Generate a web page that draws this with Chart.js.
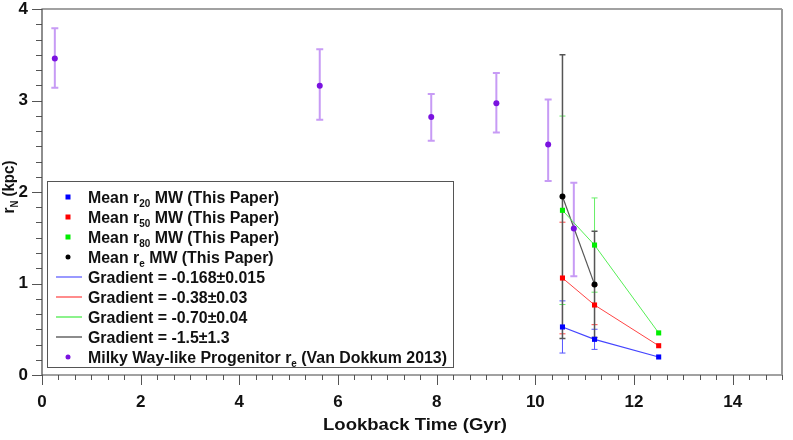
<!DOCTYPE html>
<html><head><meta charset="utf-8">
<script src="https://cdn.jsdelivr.net/npm/chart.js@4"></script>
<style>html,body{margin:0;padding:0;background:#fff}</style>
</head><body>
<canvas id="c" width="793" height="440"></canvas>
<script>
// ---- data ----
const timeMW = [10.55, 11.2, 12.5];
const r20 = [0.525, 0.39, 0.197];
const r20Err = [0.285, 0.11, 0];
const r50 = [1.06, 0.765, 0.32];
const r50Err = [0.61, 0.215, 0];
const r80 = [1.80, 1.42, 0.46];
const r80Err = [1.03, 0.515, 0];
const timeRe = [10.55, 11.2];
const re = [1.95, 0.99];
const reErr = [1.55, 0.58];
const timeVD = [0.26, 5.63, 7.89, 9.21, 10.26, 10.78];
const rVD = [3.46, 3.16, 2.82, 2.97, 2.52, 1.60];
const rVDHi = [3.79, 3.56, 3.07, 3.30, 3.01, 2.10];
const rVDLo = [3.14, 2.79, 2.56, 2.65, 2.12, 1.08];
const xTicks = [0, 2, 4, 6, 8, 10, 12, 14];
const yTicks = [0, 1, 2, 3, 4];
const legendLabels = [
  "Mean r_{20} MW (This Paper)",
  "Mean r_{50} MW (This Paper)",
  "Mean r_{80} MW (This Paper)",
  "Mean r_{e} MW (This Paper)",
  "Gradient = -0.168\u00b10.015",
  "Gradient = -0.38\u00b10.03",
  "Gradient = -0.70\u00b10.04",
  "Gradient = -1.5\u00b11.3",
  "Milky Way-like Progenitor r_{e} (Van Dokkum 2013)"
];
const xTitle = "Lookback Time (Gyr)";
const yTitle = "r_{N} (kpc)";

const FF = '"Liberation Sans", Arial, Helvetica, sans-serif';
const pts = (xs, ys) => xs.map((x, i) => ({x, y: ys[i]}));

const COL = {
  blue: '#0000ff', red: '#ff0000', green: '#00ee00', black: '#000000', purple: '#7a12e0',
  blueLine: '#4444ff', redLine: '#ff4444', greenLine: '#55ee55', blackLine: '#555555'
};

// ---- helpers ----
function richWidth(ctx, str, size, fam) {
  const parts = str.split(/(_\{[^}]*\})/);
  let w = 0;
  for (const p of parts) {
    if (!p) continue;
    if (p.startsWith('_{')) { ctx.font = `bold ${Math.round(size*0.65)}px ${fam}`; w += ctx.measureText(p.slice(2,-1)).width; }
    else { ctx.font = `bold ${size}px ${fam}`; w += ctx.measureText(p).width; }
  }
  return w;
}
function drawRich(ctx, str, x, y, size, sx, fam) {
  const parts = str.split(/(_\{[^}]*\})/);
  ctx.save(); ctx.translate(x, y); ctx.scale(sx, 1);
  ctx.textBaseline = 'alphabetic'; ctx.textAlign = 'left';
  let cx = 0;
  for (const p of parts) {
    if (!p) continue;
    if (p.startsWith('_{')) {
      const t = p.slice(2, -1);
      ctx.font = `bold ${Math.round(size*0.65)}px ${fam}`;
      ctx.fillText(t, cx, size*0.22);
      cx += ctx.measureText(t).width;
    } else {
      ctx.font = `bold ${size}px ${fam}`;
      ctx.fillText(p, cx, 0);
      cx += ctx.measureText(p).width;
    }
  }
  ctx.restore();
}

function errBars(chart, xs, ys, lo, hi, color, lw, cap) {
  const ctx = chart.ctx, X = chart.scales.x, Y = chart.scales.y;
  ctx.save(); ctx.strokeStyle = color; ctx.lineWidth = lw;
  for (let i = 0; i < xs.length; i++) {
    if (hi[i] === lo[i]) continue;
    const px = X.getPixelForValue(xs[i]);
    const p1 = Y.getPixelForValue(lo[i]), p2 = Y.getPixelForValue(hi[i]);
    ctx.beginPath();
    ctx.moveTo(px, p1); ctx.lineTo(px, p2);
    ctx.moveTo(px - cap, p1); ctx.lineTo(px + cap, p1);
    ctx.moveTo(px - cap, p2); ctx.lineTo(px + cap, p2);
    ctx.stroke();
  }
  ctx.restore();
}
const sym = (ys, e, s) => ys.map((v, i) => v + s * e[i]);

const errorPlugin = {
  id: 'errorbars',
  beforeDatasetsDraw(chart) {
    errBars(chart, timeVD, rVD, rVDLo, rVDHi, '#c79bf5', 2, 3.5);
    errBars(chart, timeMW, r20, sym(r20, r20Err, -1), sym(r20, r20Err, 1), '#5555ff', 1, 3);
    errBars(chart, timeMW, r50, sym(r50, r50Err, -1), sym(r50, r50Err, 1), '#ff4444', 1, 3);
    errBars(chart, timeMW, r80, sym(r80, r80Err, -1), sym(r80, r80Err, 1), '#66ee66', 1, 3);
    errBars(chart, timeRe, re, sym(re, reErr, -1), sym(re, reErr, 1), '#555555', 1.5, 3);
  }
};

const legendItems = [
  {kind: 'rect', color: COL.blue},
  {kind: 'rect', color: COL.red},
  {kind: 'rect', color: COL.green},
  {kind: 'dot', color: COL.black},
  {kind: 'line', color: '#7777ff'},
  {kind: 'line', color: '#ff6666'},
  {kind: 'line', color: '#66ee66'},
  {kind: 'line', color: '#666666'},
  {kind: 'dot', color: COL.purple}
];

const framePlugin = {
  id: 'frame',
  afterDraw(chart) {
    const ctx = chart.ctx, a = chart.chartArea, X = chart.scales.x, Y = chart.scales.y;
    ctx.save();
    // ticks
    ctx.strokeStyle = '#555'; ctx.lineWidth = 1;
    ctx.beginPath();
    for (let k = 0; k <= 45; k++) {
      const v = k / 3, px = Math.round(X.getPixelForValue(v)) + 0.5;
      const major = k % 6 === 0;
      ctx.moveTo(px, a.bottom); ctx.lineTo(px, a.bottom + (major ? 10 : 5));
    }
    for (let k = 0; k <= 24; k++) {
      const v = k / 6, py = Math.round(Y.getPixelForValue(v)) + 0.5;
      const major = k % 6 === 0;
      ctx.moveTo(a.left, py); ctx.lineTo(a.left - (major ? 10 : 6), py);
    }
    ctx.stroke();
    // frame
    ctx.strokeStyle = '#444'; ctx.lineWidth = 1.2;
    ctx.beginPath();
    ctx.moveTo(a.left, a.bottom); ctx.lineTo(a.left, a.top); ctx.lineTo(a.right, a.top);
    ctx.moveTo(a.left, a.bottom); ctx.lineTo(a.right, a.bottom);
    ctx.stroke();
    ctx.strokeStyle = '#999'; ctx.lineWidth = 2;
    ctx.beginPath(); ctx.moveTo(a.right, a.top); ctx.lineTo(a.right, a.bottom); ctx.stroke();

    // axis titles
    ctx.fillStyle = '#111';
    const wx = richWidth(ctx, xTitle, 17, FF);
    drawRich(ctx, xTitle, 323, 430, 17, 184 / wx, FF);
    ctx.save();
    ctx.translate(14, 187); ctx.rotate(-Math.PI / 2);
    const wy = richWidth(ctx, yTitle, 16, FF);
    drawRich(ctx, yTitle, -26.5, 0, 16, 53 / wy, FF);
    ctx.restore();

    // legend
    const L = {x: 47.5, y: 181.5, w: 406, h: 186};
    ctx.fillStyle = '#fff'; ctx.fillRect(L.x, L.y, L.w, L.h);
    ctx.strokeStyle = '#555'; ctx.lineWidth = 1; ctx.strokeRect(L.x, L.y, L.w, L.h);
    const lsize = 16;
    const sx = 359 / richWidth(ctx, legendLabels[8], lsize, FF);
    for (let i = 0; i < legendLabels.length; i++) {
      const cy = 197 + 20 * i;
      const it = legendItems[i];
      if (it.kind === 'line') {
        ctx.strokeStyle = it.color; ctx.lineWidth = 1.5;
        ctx.beginPath(); ctx.moveTo(56, cy); ctx.lineTo(82, cy); ctx.stroke();
      } else if (it.kind === 'rect') {
        ctx.fillStyle = it.color; ctx.fillRect(65.5, cy - 2.5, 5, 5);
      } else {
        ctx.fillStyle = it.color; ctx.beginPath(); ctx.arc(68, cy, 2.5, 0, Math.PI * 2); ctx.fill();
      }
      ctx.fillStyle = '#111';
      drawRich(ctx, legendLabels[i], 88, cy + 6, lsize, sx, FF);
    }
    ctx.restore();
  }
};

// ---- chart ----
new Chart(document.getElementById('c'), {
  type: 'scatter',
  data: {
    datasets: [
      {label: 'Mean r20 MW (This Paper)', data: pts(timeMW, r20), pointStyle: 'rect', pointRadius: 3.6, backgroundColor: COL.blue, borderWidth: 0, order: 1},
      {label: 'Mean r50 MW (This Paper)', data: pts(timeMW, r50), pointStyle: 'rect', pointRadius: 3.6, backgroundColor: COL.red, borderWidth: 0, order: 1},
      {label: 'Mean r80 MW (This Paper)', data: pts(timeMW, r80), pointStyle: 'rect', pointRadius: 3.6, backgroundColor: COL.green, borderWidth: 0, order: 1},
      {label: 'Mean re MW (This Paper)', data: pts(timeRe, re), pointStyle: 'circle', pointRadius: 3, backgroundColor: COL.black, borderWidth: 0, order: 1},
      {label: 'Gradient r20', data: pts(timeMW, r20), showLine: true, pointRadius: 0, borderColor: COL.blueLine, borderWidth: 1.2, order: 5},
      {label: 'Gradient r50', data: pts(timeMW, r50), showLine: true, pointRadius: 0, borderColor: COL.redLine, borderWidth: 1, order: 5},
      {label: 'Gradient r80', data: pts(timeMW, r80), showLine: true, pointRadius: 0, borderColor: COL.greenLine, borderWidth: 1, order: 5},
      {label: 'Gradient re', data: pts(timeRe, re), showLine: true, pointRadius: 0, borderColor: COL.blackLine, borderWidth: 1.2, order: 5},
      {label: 'Milky Way-like Progenitor re (Van Dokkum 2013)', data: pts(timeVD, rVD), pointStyle: 'circle', pointRadius: 3, backgroundColor: COL.purple, borderWidth: 0, order: 1}
    ]
  },
  options: {
    responsive: false,
    animation: false,
    devicePixelRatio: 1,
    layout: {padding: {left: 0, top: 9, right: 11, bottom: 0}},
    plugins: {legend: {display: false}, tooltip: {enabled: false}},
    scales: {
      x: {
        type: 'linear', min: 0, max: 15,
        afterBuildTicks: s => { s.ticks = xTicks.map(v => ({value: v})); },
        afterFit: s => { s.height = 65; s.paddingLeft = 0; s.paddingRight = 0; },
        grid: {display: false, drawTicks: false},
        border: {display: false},
        ticks: {padding: 17, color: '#111', font: {family: FF, weight: 'bold', size: 17}, maxRotation: 0}
      },
      y: {
        type: 'linear', min: 0, max: 4,
        afterBuildTicks: s => { s.ticks = yTicks.map(v => ({value: v})); },
        afterFit: s => { s.width = 42; s.paddingTop = 0; s.paddingBottom = 0; },
        grid: {display: false, drawTicks: false},
        border: {display: false},
        ticks: {padding: 14, color: '#111', font: {family: FF, weight: 'bold', size: 17}}
      }
    }
  },
  plugins: [errorPlugin, framePlugin]
});
</script>
</body></html>
